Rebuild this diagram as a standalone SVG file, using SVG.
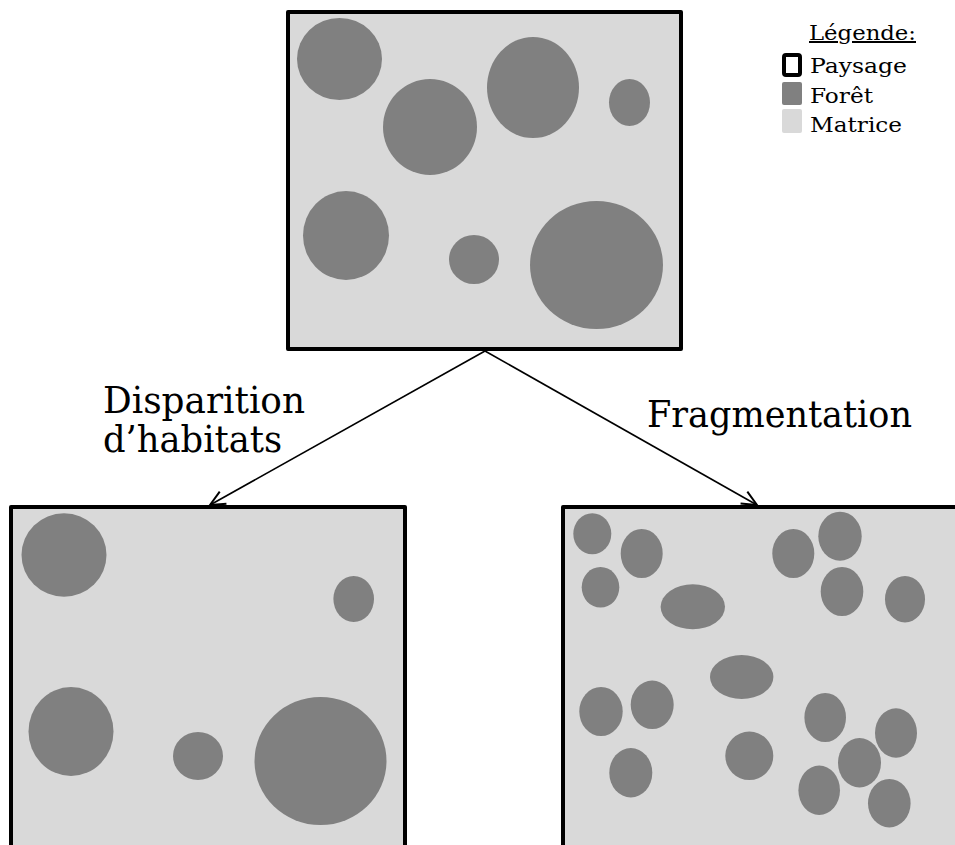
<svg xmlns="http://www.w3.org/2000/svg" width="955" height="845" viewBox="0 0 955 845">
<defs>
<style>
.land{fill:#d9d9d9;stroke:#000;stroke-width:4;stroke-linejoin:round}
.forest{fill:#808080}
.lbl{font-family:"DejaVu Serif","Liberation Serif",serif;fill:#000}
.big{font-size:37px}
.leg{font-size:20px}
.conn{stroke:#000;stroke-width:1.6;fill:none}
</style>
<marker id="arr" markerUnits="userSpaceOnUse" markerWidth="20" markerHeight="20" viewBox="-14 -8 16 16" refX="0" refY="0" orient="auto">
<path d="M-12,-5.5 L0,0 L-12,5.5" fill="none" stroke="#000" stroke-width="1.6"/>
</marker>
</defs>
<rect width="955" height="845" fill="#fff"/>

<g id="paysage-initial">
<rect class="land" x="288" y="12" width="393" height="337"/>
<ellipse class="forest" cx="339.5" cy="59" rx="42.5" ry="41"/>
<ellipse class="forest" cx="430" cy="127" rx="47" ry="48"/>
<ellipse class="forest" cx="533" cy="87.5" rx="46" ry="50.5"/>
<ellipse class="forest" cx="629.5" cy="102.5" rx="20.5" ry="23.5"/>
<ellipse class="forest" cx="346" cy="235.5" rx="43" ry="44.5"/>
<ellipse class="forest" cx="474" cy="259.5" rx="25" ry="24.5"/>
<ellipse class="forest" cx="596.5" cy="265" rx="66.5" ry="64"/>
</g>

<g id="paysage-disparition">
<rect class="land" x="11" y="507" width="394" height="360"/>
<ellipse class="forest" cx="64" cy="555" rx="42.5" ry="41.7"/>
<ellipse class="forest" cx="353.7" cy="599" rx="20.3" ry="23"/>
<ellipse class="forest" cx="71" cy="731.5" rx="42.5" ry="44.5"/>
<ellipse class="forest" cx="198" cy="756" rx="25" ry="24"/>
<ellipse class="forest" cx="320.5" cy="761" rx="66" ry="64"/>
</g>

<g id="paysage-fragmentation">
<rect class="land" x="563" y="507" width="420" height="360"/>
<ellipse class="forest" cx="592.3" cy="533.8" rx="19" ry="20.5"/>
<ellipse class="forest" cx="641.7" cy="553.5" rx="21" ry="24.5"/>
<ellipse class="forest" cx="600.5" cy="587.3" rx="18.8" ry="20.3"/>
<ellipse class="forest" cx="692.8" cy="606.8" rx="32.2" ry="22.5"/>
<ellipse class="forest" cx="793.3" cy="553.5" rx="21" ry="24.5"/>
<ellipse class="forest" cx="840" cy="536.2" rx="21.7" ry="24.5"/>
<ellipse class="forest" cx="842" cy="591.5" rx="21.3" ry="24.5"/>
<ellipse class="forest" cx="905" cy="599.2" rx="20" ry="23.2"/>
<ellipse class="forest" cx="741.7" cy="677" rx="31.7" ry="22"/>
<ellipse class="forest" cx="601" cy="711.5" rx="21.7" ry="24.5"/>
<ellipse class="forest" cx="652.2" cy="704.8" rx="21.5" ry="24.2"/>
<ellipse class="forest" cx="630.8" cy="772.7" rx="21.5" ry="24.7"/>
<ellipse class="forest" cx="749.3" cy="755.8" rx="24" ry="24.2"/>
<ellipse class="forest" cx="825.2" cy="717.5" rx="20.8" ry="24.5"/>
<ellipse class="forest" cx="896" cy="733" rx="21" ry="24.7"/>
<ellipse class="forest" cx="859.5" cy="762.7" rx="21.5" ry="24.7"/>
<ellipse class="forest" cx="819.2" cy="790.3" rx="20.8" ry="24.7"/>
<ellipse class="forest" cx="889.3" cy="803.2" rx="21.3" ry="24.2"/>
</g>

<g id="connectors">
<line class="conn" x1="485" y1="351" x2="210" y2="505" marker-end="url(#arr)"/>
<line class="conn" x1="485" y1="351" x2="757" y2="505" marker-end="url(#arr)"/>
</g>

<g id="labels">
<text class="lbl big" x="103" y="413" textLength="202" lengthAdjust="spacingAndGlyphs">Disparition</text>
<text class="lbl big" x="103" y="452" textLength="179" lengthAdjust="spacingAndGlyphs">d’habitats</text>
<text class="lbl big" x="647" y="427" textLength="265" lengthAdjust="spacingAndGlyphs">Fragmentation</text>
</g>

<g id="legende">
<text class="lbl leg" x="809" y="40" textLength="107" lengthAdjust="spacingAndGlyphs" text-decoration="underline">Légende:</text>
<rect x="784" y="55" width="16" height="20" rx="2" fill="none" stroke="#000" stroke-width="4"/>
<text class="lbl leg" x="810" y="73" textLength="97" lengthAdjust="spacingAndGlyphs">Paysage</text>
<rect x="782" y="82" width="20" height="23" rx="2" fill="#808080"/>
<text class="lbl leg" x="810" y="103" textLength="63" lengthAdjust="spacingAndGlyphs">Forêt</text>
<rect x="782" y="109" width="20" height="24" rx="2" fill="#d9d9d9"/>
<text class="lbl leg" x="810" y="132" textLength="92" lengthAdjust="spacingAndGlyphs">Matrice</text>
</g>
</svg>
